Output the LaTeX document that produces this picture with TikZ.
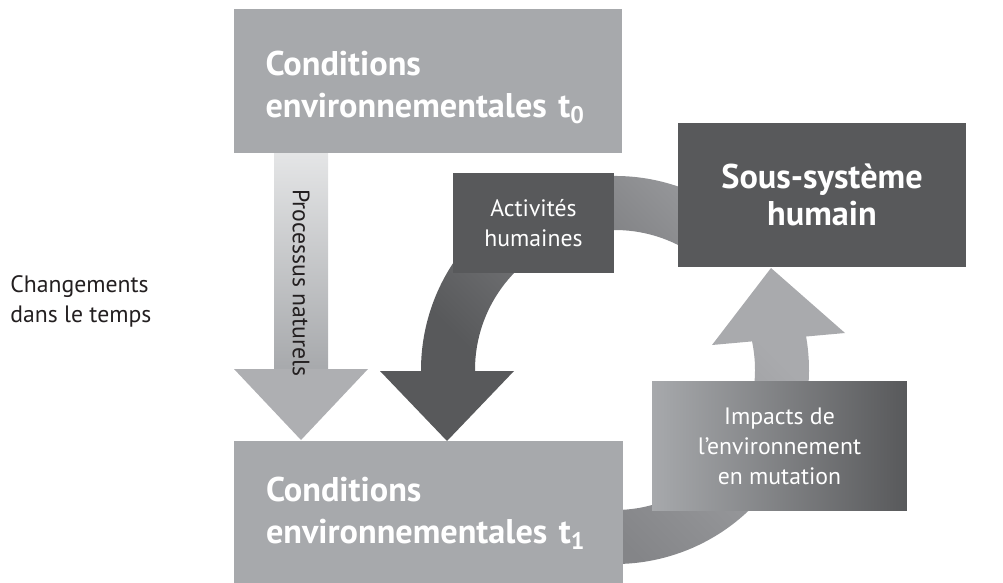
\documentclass[tikz,border=0pt]{standalone}
\usepackage{fontspec}
\setmainfont{PT Sans}
\usetikzlibrary{calc}

\definecolor{condgray}{HTML}{A7A9AC}
\definecolor{humangray}{HTML}{58595B}
\definecolor{processtop}{HTML}{E5E6E7}
\definecolor{processhead}{HTML}{AEAFB2}
\definecolor{actlight}{HTML}{949598}
\definecolor{actdark}{HTML}{58595B}
\definecolor{uplight}{HTML}{A9AAAD}
\definecolor{updark}{HTML}{848588}
\definecolor{textblack}{HTML}{231F20}

\tikzset{
  condbox/.style={fill=condgray, text=white, minimum width=7.78cm, minimum height=2.88cm,
    text width=6.5cm, align=left, inner xsep=0.64cm, inner ysep=0pt,
    font=\bfseries\fontsize{19.5}{24}\selectfont},
  humanbox/.style={fill=humangray, text=white, inner sep=0pt, align=center},
  smalltext/.style={font=\fontsize{13.5}{17}\selectfont},
  plainlabel/.style={smalltext, text=textblack, align=left, inner sep=0pt},
}

\begin{document}
\begin{tikzpicture}[x=0.02cm, y=-0.02cm]
  \useasboundingbox (0,0) rectangle (1003,582);
  \coordinate (hub) at (615,370);

  \shade[top color=processtop, bottom color=condgray] (274,150) rectangle (328,370);
  \fill[processhead] (234,369) -- (368,369) -- (301,440) -- cycle;

  \shade[top color=actlight, bottom color=actdark, shading angle=-45]
    ($(hub)+(300:194)$) arc[start angle=300, end angle=178, radius=194]
    -- ($(hub)+(178:140)$) arc[start angle=178, end angle=300, radius=140] -- cycle;
  \fill[actdark] (380,371) -- (514,371) -- (447,441) -- cycle;

  \shade[top color=uplight, bottom color=updark, shading angle=-45]
    ($(hub)+(100:194)$) arc[start angle=100, end angle=-13, radius=194]
    -- ($(hub)+(-13:140)$) arc[start angle=-13, end angle=100, radius=140] -- cycle;
  \fill[uplight] (712,345) -- (845,333) -- (771,268) -- cycle;

  \node[condbox, execute at begin node={\rule{0pt}{0.74cm}}] (t0) at (428,81)
    {Conditions\\environnementales t\textsubscript{0}};
  \node[condbox] (t1) at (428.5,513) {Conditions\\environnementales t\textsubscript{1}};
  \node[humanbox, minimum width=5.76cm, minimum height=2.88cm,
    font=\bfseries\fontsize{19.5}{21}\selectfont] (human) at (822,195) {Sous-système\\humain};
  \node[humanbox, smalltext, minimum width=3.22cm, minimum height=2cm] (activities)
    at (533.5,223) {Activités\\humaines};
  \node[left color=condgray, right color=humangray, text=white, smalltext, align=center,
    inner sep=0pt, minimum width=5.1cm, minimum height=2.6cm] (impacts)
    at (779.5,446) {Impacts de\\l’environnement\\en mutation};

  \node[plainlabel, anchor=base west] (change) at (10,322) {Changements\\dans le temps};
  \node[plainlabel, rotate=-90] (natural) at (301,283) {Processus naturels};
\end{tikzpicture}
\end{document}
